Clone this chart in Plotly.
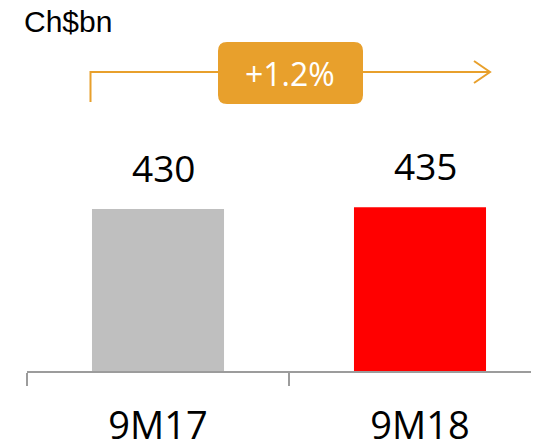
import plotly.graph_objects as go

categories = ["9M17", "9M18"]
values = [430, 435]
bar_colors = ["#BFBFBF", "#FF0000"]
unit_label = "Ch$bn"

growth = (values[1] / values[0] - 1) * 100
growth_label = f"{growth:+.1f}%"

# page has an 8px body margin; work in page pixels and convert
OFF = 8
W, H = 539 - OFF, 443 - OFF
AXIS_Y = 371          # page y of the baseline
L, R, T = 27 - OFF, 0, 0
B = H - (AXIS_Y - OFF)
PW, PH = W - L - R, H - T - B

def px(x):
    return (x - OFF - L) / PW

def py(y):
    return (T + PH - (y - OFF)) / PH

ORANGE = "#E8A02C"
AXIS = "#9C9C9C"
FONT = "Open Sans"

fig = go.Figure()
fig.add_trace(go.Bar(
    x=categories, y=values, width=[0.504, 0.504],
    marker=dict(color=bar_colors, line=dict(width=0)),
    hoverinfo="skip",
))

for c, v in zip(categories, values):
    fig.add_annotation(x=c, y=v, text=str(v), showarrow=False,
                       xref="x", yref="y", xanchor="center", yanchor="bottom",
                       xshift=5, yshift=14,
                       font=dict(family=FONT, size=37, color="#000000"))

# rounded box
x0, x1, y0, y1, r = px(218), px(363), py(104), py(42), 9
rx, ry = r / PW, r / PH
path = (f"M {x0+rx} {y0} L {x1-rx} {y0} Q {x1} {y0} {x1} {y0+ry} "
        f"L {x1} {y1-ry} Q {x1} {y1} {x1-rx} {y1} L {x0+rx} {y1} "
        f"Q {x0} {y1} {x0} {y1-ry} L {x0} {y0+ry} Q {x0} {y0} {x0+rx} {y0} Z")

shapes = [
    dict(type="path", xref="paper", yref="paper",
         path=f"M {px(90.5)} {py(102)} L {px(90.5)} {py(72)} L {px(490)} {py(72)}",
         line=dict(color=ORANGE, width=2), layer="above"),
    dict(type="path", xref="paper", yref="paper",
         path=f"M {px(474)} {py(61)} L {px(490)} {py(72)} L {px(474)} {py(83)}",
         line=dict(color=ORANGE, width=2), layer="above"),
    dict(type="path", xref="paper", yref="paper", path=path,
         fillcolor=ORANGE, line=dict(color=ORANGE, width=0), layer="above"),
]

fig.add_annotation(x=px(290), y=py(73), xref="paper", yref="paper",
                   text=growth_label, showarrow=False, xanchor="center", yanchor="middle",
                   font=dict(family=FONT, size=32, color="#FFFFFF"))

fig.add_annotation(x=px(23), y=py(21), xref="paper", yref="paper",
                   text=unit_label, showarrow=False, xanchor="left", yanchor="middle",
                   borderpad=0,
                   font=dict(family="Liberation Sans", size=30, color="#000000"))

fig.update_layout(
    width=W, height=H,
    margin=dict(l=L, r=R, t=T, b=B, pad=0, autoexpand=False),
    paper_bgcolor="white", plot_bgcolor="white",
    showlegend=False,
    shapes=shapes,
    xaxis=dict(type="category", range=[-0.5, -0.5 + PW / 262], automargin=False,
               showline=True, linecolor=AXIS, linewidth=2,
               ticks="outside", ticklen=13, tickcolor=AXIS, tickwidth=2,
               tickson="boundaries", showgrid=False, zeroline=False,
               tickfont=dict(family=FONT, size=38, color="#000000"),
               ticklabelstandoff=20, fixedrange=True),
    yaxis=dict(range=[0, PH / 0.3767], visible=False, showgrid=False, automargin=False,
               zeroline=False, fixedrange=True),
)

fig.write_html("out.html")
